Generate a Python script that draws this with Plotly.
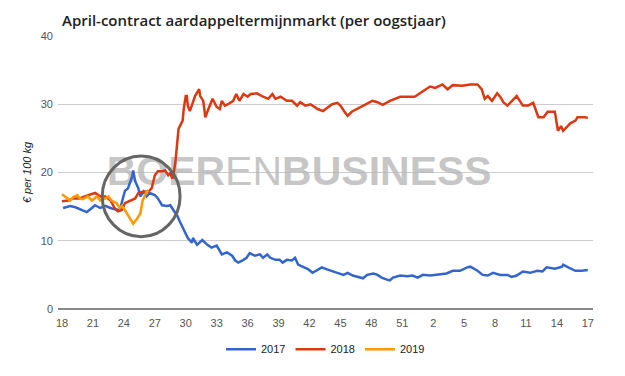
import plotly.graph_objects as go

# x position = weeks since week 18 of the harvest year
week_labels = [18, 21, 24, 27, 30, 33, 36, 39, 42, 45, 48, 51, 2, 5, 8, 11, 14, 17]

weeks_2017 = [0.1, 0.8, 1.3, 1.9, 2.4, 2.9, 3.2, 3.7, 4.2, 4.7, 5.1, 5.6, 5.8, 6.1, 6.4, 6.8, 6.9, 7.1, 7.4, 7.6,
              7.9, 8.2, 8.5, 9.0, 9.3, 9.7, 10.2, 10.5, 10.8, 11.2, 11.4, 11.7, 12.2, 12.6, 12.7, 13.1, 13.6, 14.1,
              14.5, 15.0, 15.5, 16.0, 16.5, 16.8, 17.1, 17.6, 17.9, 18.2, 18.7, 19.2, 19.5, 19.9, 20.2, 20.7, 21.1,
              21.4, 21.8, 22.3, 22.6, 22.9, 23.4, 23.9, 24.3, 24.8, 25.2, 25.7, 26.2, 26.7, 27.3, 27.7, 28.2, 28.9,
              29.2, 29.6, 30.2, 30.6, 31.0, 31.5, 31.8, 32.1, 32.8, 33.5, 34.0, 34.5, 35.0, 35.7, 36.4, 37.3, 37.9,
              38.6, 39.3, 39.6, 40.3, 40.8, 41.3, 41.8, 42.5, 43.2, 43.6, 44.1, 44.7, 45.4, 46.1, 46.6, 47.0, 47.8,
              48.5, 48.6, 49.1, 49.8, 50.4, 51.0]
prices_2017 = [14.8, 15.1, 14.9, 14.5, 14.2, 14.8, 15.2, 14.8, 15.1, 14.8, 14.6, 14.5, 15.5, 17.3, 17.7, 19.4, 20.3,
               18.7, 17.7, 16.5, 17.2, 16.5, 17.0, 16.7, 16.2, 15.2, 15.1, 15.2, 14.5, 13.6, 12.9, 11.9, 10.4, 9.7,
               10.4, 9.4, 10.1, 9.4, 9.0, 9.3, 8.0, 8.3, 7.8, 7.1, 6.8, 7.2, 7.5, 8.2, 7.8, 8.0, 7.5, 8.0, 7.5, 7.2,
               7.2, 6.8, 7.2, 7.1, 7.5, 6.5, 6.2, 5.8, 5.3, 5.8, 6.1, 5.8, 5.6, 5.3, 5.0, 5.3, 4.9, 4.6, 4.5, 5.0,
               5.2, 5.0, 4.6, 4.3, 4.2, 4.6, 4.9, 4.8, 4.9, 4.6, 5.0, 4.9, 5.0, 5.2, 5.6, 5.6, 6.1, 6.2, 5.6, 5.0,
               4.9, 5.3, 5.0, 5.0, 4.7, 4.9, 5.5, 5.3, 5.6, 5.5, 6.1, 5.9, 6.2, 6.5, 6.1, 5.6, 5.6, 5.7]

weeks_2018 = [0.0, 0.6, 1.1, 1.7, 2.2, 2.7, 3.2, 3.7, 4.2, 4.7, 5.1, 5.4, 5.8, 6.1, 6.6, 7.1, 7.4, 7.9, 8.4, 8.7,
              9.0, 9.3, 9.7, 10.0, 10.3, 10.5, 10.7, 10.8, 11.0, 11.2, 11.3, 11.7, 11.8, 12.0, 12.1, 12.2, 12.4,
              12.7, 12.9, 13.3, 13.4, 13.7, 13.9, 14.2, 14.6, 15.0, 15.3, 15.5, 15.8, 16.1, 16.6, 16.9, 17.2, 17.6,
              18.0, 18.3, 18.9, 19.5, 20.0, 20.4, 20.7, 21.2, 21.8, 22.3, 22.8, 23.1, 23.6, 24.1, 24.3, 24.8, 25.3,
              25.7, 26.2, 26.7, 27.0, 27.4, 27.7, 28.1, 28.6, 29.1, 29.7, 30.1, 30.6, 31.1, 31.8, 32.3, 32.8, 33.5,
              34.2, 35.0, 35.7, 36.2, 36.9, 37.4, 37.9, 38.8, 39.6, 40.3, 40.7, 41.0, 41.3, 41.7, 42.2, 42.5, 42.8,
              43.2, 43.5, 44.1, 44.4, 44.7, 45.2, 45.7, 46.2, 46.7, 47.1, 47.8, 48.1, 48.4, 48.6, 49.3, 49.8, 50.0,
              50.7, 51.0]
prices_2018 = [15.8, 15.9, 16.2, 16.2, 16.5, 16.7, 17.0, 16.5, 16.5, 15.9, 14.8, 14.3, 14.5, 15.5, 15.9, 16.2, 17.0,
               17.2, 17.2, 17.7, 19.6, 20.2, 20.2, 20.3, 19.6, 19.9, 19.1, 19.6, 21.6, 24.9, 26.4, 27.6, 29.3, 31.2,
               31.2, 29.8, 29.0, 30.3, 31.2, 32.2, 31.2, 30.5, 28.1, 29.3, 30.8, 29.6, 29.3, 30.5, 29.8, 30.0, 30.5,
               31.5, 30.5, 31.5, 31.1, 31.5, 31.6, 31.1, 30.8, 31.5, 30.8, 31.1, 30.5, 30.5, 29.8, 30.3, 29.8, 30.0,
               29.8, 29.3, 29.0, 29.5, 30.0, 30.2, 29.8, 28.9, 28.3, 28.9, 29.3, 29.8, 30.3, 30.5, 30.3, 29.9, 30.5,
               30.8, 31.1, 31.1, 31.1, 31.9, 32.6, 32.4, 32.9, 32.2, 32.8, 32.7, 32.9, 32.9, 32.2, 30.8, 31.2, 30.5,
               31.6, 31.1, 30.3, 29.8, 30.3, 31.2, 30.5, 29.8, 29.8, 30.2, 28.1, 28.1, 28.9, 28.9, 26.1, 26.8, 26.1,
               27.2, 27.6, 28.1, 28.1, 28.0]

weeks_2019 = [0.0, 0.3, 0.8, 1.1, 1.5, 1.7, 2.0, 2.5, 2.9, 3.4, 3.7, 4.2, 4.5, 4.8, 5.3, 5.6, 5.8, 6.1, 6.4, 6.9,
              7.3, 7.6, 7.8, 8.0, 8.2, 8.4]
prices_2019 = [16.8, 16.5, 15.9, 16.4, 16.7, 16.2, 16.1, 16.5, 15.9, 16.5, 15.9, 16.2, 16.5, 15.9, 15.5, 14.8, 15.1,
               14.5, 13.8, 12.5, 13.3, 14.0, 15.8, 16.5, 17.2, 17.4]

series = [("2017", weeks_2017, prices_2017, "#3366cc"),
          ("2018", weeks_2018, prices_2018, "#dc3912"),
          ("2019", weeks_2019, prices_2019, "#ff9900")]

fig = go.Figure()

# watermark (drawn first so the lines sit on top)
fig.add_trace(go.Scatter(
    x=[23.0], y=[19.65], mode="text",
    text=["<b>BOER</b>EN<b>BUSINESS</b>"],
    textfont=dict(family="Liberation Sans", size=41, color="rgba(180,180,180,0.75)"),
    hoverinfo="skip", showlegend=False))

for name, xs, ys, color in series:
    fig.add_trace(go.Scatter(x=xs, y=ys, mode="lines", name=name,
                             line=dict(color=color, width=2.5)))

# highlighting circle
fig.add_shape(type="circle", xref="x", yref="y", x0=3.9, x1=11.45, y0=10.6, y1=22.4,
              line=dict(color="#666666", width=3))

fig.update_layout(
    width=625, height=376,
    margin=dict(l=58, r=32, t=36, b=64),
    paper_bgcolor="white", plot_bgcolor="white",
    title=dict(text="April-contract aardappeltermijnmarkt (per oogstjaar)",
               x=62 / 625, xanchor="left", y=1 - 21 / 376, yanchor="middle",
               font=dict(family="Open Sans", size=15, color="#222222", weight=600)),
    legend=dict(orientation="h", x=0.5, xanchor="center", y=-0.147, yanchor="middle",
                font=dict(family="Liberation Sans", size=11, color="#222222")),
    font=dict(family="Liberation Sans", size=11, color="#555555"),
)
fig.update_xaxes(range=[-0.39, 51.5], tickmode="array",
                 tickvals=[3 * i for i in range(len(week_labels))],
                 ticktext=[str(w) for w in week_labels],
                 showgrid=False, zeroline=False, showline=False, ticks="",
                 ticklabelstandoff=6,
                 tickfont=dict(size=11, color="#555555"))
fig.update_yaxes(range=[0, 40], tickvals=[0, 10, 20, 30, 40],
                 showgrid=True, gridcolor="#cccccc", gridwidth=1,
                 zeroline=True, zerolinecolor="#888888", zerolinewidth=1.5,
                 showline=False, ticks="", ticklabelstandoff=4,
                 tickfont=dict(size=11, color="#555555"),
                 title=dict(text="<i>€ per 100 kg</i>", standoff=6,
                            font=dict(size=11, color="#222222")))

fig.write_html("out.html", config={"displayModeBar": False},
               post_script="document.body.style.margin='0';document.body.style.overflow='hidden';")
